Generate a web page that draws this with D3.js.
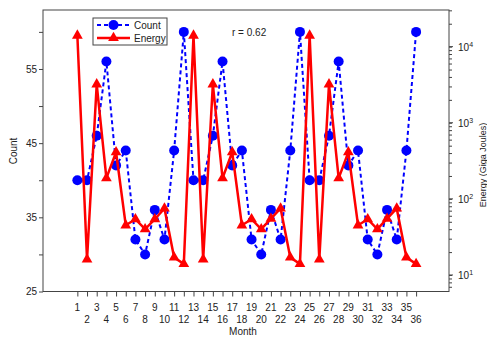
<!DOCTYPE html>
<html>
<head>
<meta charset="utf-8">
<script src="https://cdn.jsdelivr.net/npm/d3@7"></script>
<style>
  body { margin: 0; background: #fff; }
  svg { font-family: "Liberation Sans", Arial, sans-serif; }
  text { fill: #222; }
</style>
</head>
<body>
<div id="graph"></div>
<script>
// data
let months = [1,2,3,4,5,6,7,8,9,10,11,12,13,14,15,16,17,18,19,20,21,22,23,24,25,26,27,28,29,30,31,32,33,34,35,36];
let counts = [40,40,46,56,42,44,32,30,36,32,44,60, 40,40,46,56,42,44,32,30,36,32,44,60, 40,40,46,56,42,44,32,30,36,32,44,60];
let energy = [14000,16,3200,187,410,45,54,40,54,75,17,14, 14000,16,3200,187,410,45,54,40,55,75,17,14, 14000,16,3200,187,410,45,54,40,55,75,17,14];
let countTicks = [25,30,35,40,45,50,55,60];
let countLabels = [25,35,45,55];
let energyMajor = [1,2,3,4]; // powers of ten
let corrText = "r = 0.62";

let width = 487, height = 337;
let padL = 43, padR = 449, padT = 10, padB = 291.5;

let x = d3.scaleLinear().domain([-2.55, 39.4]).range([padL, padR]);
let y = d3.scaleLinear().domain([25, 62.95]).range([padB, padT]);
let y2 = d3.scaleLog().domain([6.07, 30300]).range([padB, padT]);

let svg = d3.select("#graph").append("svg").attr("width", width).attr("height", height);

// box
svg.append("rect").attr("x", padL).attr("y", padT).attr("width", padR-padL).attr("height", padB-padT)
  .attr("fill", "none").attr("stroke", "#444").attr("stroke-width", 1);

// left axis
let yAxis = d3.axisLeft(y).tickValues(countTicks).tickSize(4).tickSizeOuter(0)
  .tickFormat(d => countLabels.includes(d) ? d : "");
let ga = svg.append("g").attr("transform", "translate("+padL+",0)").call(yAxis);
ga.select(".domain").remove();
ga.selectAll("line").attr("stroke", "#444");
ga.selectAll("text").attr("font-size", 10).attr("x", -6).attr("fill", "#222");

// right axis (log)
let minor = [];
energyMajor.concat([0]).forEach(p => {
  for (let k = 1; k <= 9; k++) {
    let v = k*Math.pow(10, p);
    if (v >= y2.domain()[0] && v <= y2.domain()[1]) minor.push(v);
  }
});
let y2Axis = d3.axisRight(y2).tickValues(minor).tickSize(3).tickSizeOuter(0).tickFormat("");
let gr = svg.append("g").attr("transform", "translate("+padR+",0)").call(y2Axis);
gr.select(".domain").remove();
gr.selectAll("line").attr("stroke", "#444");
energyMajor.forEach(p => {
  let yy = y2(Math.pow(10, p));
  gr.append("line").attr("x1", 0).attr("x2", 4).attr("y1", yy).attr("y2", yy).attr("stroke", "#444");
  let t = gr.append("text").attr("x", 9).attr("y", yy + 4).attr("font-size", 10).attr("fill", "#222");
  t.append("tspan").text("10");
  t.append("tspan").attr("dy", -4).attr("font-size", 7).text(p);
});

// bottom axis
let xAxis = d3.axisBottom(x).tickValues(months).tickSize(5).tickSizeOuter(0).tickFormat("");
let gb = svg.append("g").attr("transform", "translate(0,"+padB+")").call(xAxis);
gb.select(".domain").remove();
gb.selectAll("line").attr("stroke", "#444");
svg.append("g").selectAll("text").data(months).enter().append("text")
  .attr("x", d => x(d))
  .attr("y", d => d % 2 ? 311 : 323)
  .attr("text-anchor", "middle").attr("font-size", 10)
  .text(d => d);

// axis titles
svg.append("text").attr("x", 243).attr("y", 335).attr("text-anchor", "middle").attr("font-size", 10).text("Month");
svg.append("text").attr("transform", "translate(17,151) rotate(-90)").attr("text-anchor", "middle")
  .attr("font-size", 10).text("Count");
svg.append("text").attr("transform", "translate(486,165) rotate(-90)").attr("text-anchor", "middle")
  .attr("font-size", 9).text("Energy (Giga Joules)");

// count series
svg.append("path").datum(months)
  .attr("d", d3.line().x(d => x(d)).y((d, i) => y(counts[i])))
  .attr("fill", "none").attr("stroke", "#0000ff").attr("stroke-width", 2).attr("stroke-dasharray", "4,3");
svg.append("g").selectAll("circle").data(months).enter().append("circle")
  .attr("cx", d => x(d)).attr("cy", (d, i) => y(counts[i])).attr("r", 5).attr("fill", "#0000ff");

// energy series
svg.append("path").datum(months)
  .attr("d", d3.line().x(d => x(d)).y((d, i) => y2(energy[i])))
  .attr("fill", "none").attr("stroke", "#ff0000").attr("stroke-width", 2.5);
let tri = d3.symbol().type(d3.symbolTriangle).size(50);
svg.append("g").selectAll("path").data(months).enter().append("path")
  .attr("d", tri)
  .attr("transform", (d, i) => "translate("+x(d)+","+y2(energy[i])+")")
  .attr("fill", "#ff0000");

// correlation
svg.append("text").attr("x", 232).attr("y", 36).attr("font-size", 10).text(corrText);

// legend
let lg = svg.append("g");
lg.append("rect").attr("x", 93).attr("y", 18).attr("width", 74).attr("height", 27)
  .attr("fill", "#fff").attr("stroke", "#444");
lg.append("line").attr("x1", 97).attr("x2", 130).attr("y1", 25).attr("y2", 25)
  .attr("stroke", "#0000ff").attr("stroke-width", 2).attr("stroke-dasharray", "4,3");
lg.append("circle").attr("cx", 113.5).attr("cy", 25).attr("r", 5).attr("fill", "#0000ff");
lg.append("text").attr("x", 134).attr("y", 28.5).attr("font-size", 10).text("Count");
lg.append("line").attr("x1", 97).attr("x2", 130).attr("y1", 38).attr("y2", 38)
  .attr("stroke", "#ff0000").attr("stroke-width", 2.5);
lg.append("path").attr("d", tri).attr("transform", "translate(113.5,38)").attr("fill", "#ff0000");
lg.append("text").attr("x", 134).attr("y", 41.5).attr("font-size", 10).text("Energy");
</script>
</body>
</html>
